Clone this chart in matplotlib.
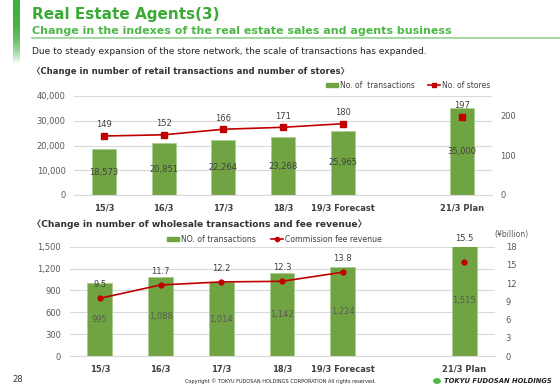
import numpy as np
import matplotlib
matplotlib.use("Agg")
import matplotlib.pyplot as plt
from matplotlib.lines import Line2D
from matplotlib.patches import Patch, Circle

plt.rcParams['font.family'] = ['DejaVu Sans', 'Noto Sans CJK JP']

# datos
categories = ['15/3', '16/3', '17/3', '18/3', '19/3 Forecast', '', '21/3 Plan']
retail_tx = [18573, 20851, 22264, 23268, 25965, np.nan, 35000]
stores = [149, 152, 166, 171, 180, np.nan, 197]
wholesale_tx = [995, 1088, 1014, 1142, 1224, np.nan, 1515]
fee_revenue = [9.5, 11.7, 12.2, 12.3, 13.8, np.nan, 15.5]

GREEN = '#70A443'
RED = '#C00000'
GRID = '#D9D9D9'
TXT = '#404040'
TICK = '#595959'

W, H = 560, 388
fig = plt.figure(figsize=(W / 100, H / 100), dpi=100)


def px_axes(x0, y0, x1, y1):
    # caja en pixeles (y hacia abajo) -> fraccion de figura
    return fig.add_axes([x0 / W, 1 - y1 / H, (x1 - x0) / W, (y1 - y0) / H])


# barra verde degradada a la izquierda
gax = px_axes(13, 0, 19, 64)
grad = np.linspace(0, 1, 100).reshape(-1, 1)
base = np.array([0x3C, 0xB0, 0x3C]) / 255
img = base[None, None, :] * (1 - grad[:, :, None] ** 3) + (grad[:, :, None] ** 3)
gax.imshow(img, aspect='auto', extent=[0, 1, 0, 1])
gax.axis('off')

# cabecera
fig.text(32 / W, 1 - 14 / H, 'Real Estate Agents(3)', fontsize=11, weight='bold',
         color='#3AAA35', va='center', ha='left')
fig.text(32 / W, 1 - 31.5 / H, 'Change in the indexes of the real estate sales and agents business',
         fontsize=8.0, weight='bold', color='#4DB848', va='center', ha='left')
fig.add_artist(Line2D([32 / W, 1], [1 - 37.5 / H, 1 - 37.5 / H], color='#93D193', lw=1.2))
fig.text(32 / W, 1 - 52 / H,
         'Due to steady expansion of the store network, the scale of transactions has expanded.',
         fontsize=6.5, color='#222222', va='center', ha='left')
fig.text(32 / W, 1 - 71 / H, '〈Change in number of retail transactions and number of stores〉',
         fontsize=6.15, weight='bold', color='#333333', va='center', ha='left')
fig.text(32 / W, 1 - 224.5 / H, '〈Change in number of wholesale transactions and fee revenue〉',
         fontsize=6.6, weight='bold', color='#333333', va='center', ha='left')


def style(ax, axr):
    for a in (ax, axr):
        for s in a.spines.values():
            s.set_visible(False)
        a.tick_params(length=0, labelsize=6, labelcolor=TICK)
    ax.spines['bottom'].set_visible(True)
    ax.spines['bottom'].set_color(GRID)
    ax.grid(axis='y', color=GRID, lw=0.8)
    ax.set_axisbelow(True)
    ax.set_xlim(-0.5, len(categories) - 0.5)
    ax.set_xticks(range(len(categories)))
    ax.set_xticklabels(categories, fontsize=6, weight='bold', color=TXT)
    ax.tick_params(axis='x', pad=6, labelcolor=TXT)
    ax.tick_params(axis='y', pad=6)
    axr.tick_params(axis='y', pad=6)
    ax.set_zorder(axr.get_zorder() - 1)
    ax.patch.set_visible(False)


x = np.arange(len(categories))

# ---- grafico superior ----
ax1 = px_axes(74, 96, 492, 195)
ax1r = ax1.twinx()
style(ax1, ax1r)
m = ~np.isnan(retail_tx)
ax1.bar(x[m], np.array(retail_tx)[m], width=0.4, color=GREEN, edgecolor='#A9CC8C', lw=0.5)
ax1.set_ylim(0, 40000)
ax1.set_yticks(range(0, 40001, 10000))
ax1.yaxis.set_major_formatter(matplotlib.ticker.StrMethodFormatter('{x:,.0f}'))
for xi, v in zip(x[m], np.array(retail_tx)[m]):
    ax1.text(xi, v / 2, f'{v:,.0f}', ha='center', va='center', fontsize=6, color=TXT)

ax1r.plot(x, stores, color=RED, lw=1.2, marker='s', ms=4)
ax1r.set_ylim(0, 250)
ax1r.set_yticks([0, 100, 200])
for xi, v in zip(x, stores):
    if not np.isnan(v):
        ax1r.annotate(f'{v:.0f}', (xi, v), xytext=(0, 8), textcoords='offset points',
                      ha='center', va='center', fontsize=6, color=TXT)

h1 = [Patch(color=GREEN), Line2D([], [], color=RED, marker='s', ms=3.5, lw=1.2)]
fig.legend(h1, ['No. of  transactions', 'No. of stores'], loc='center right',
           bbox_to_anchor=(494 / W, 1 - 85 / H), ncol=2, frameon=False, fontsize=5.5,
           handlelength=1.6, handleheight=0.5, handletextpad=0.2, columnspacing=1.8,
           labelcolor=TXT, borderpad=0)

# ---- grafico inferior ----
ax2 = px_axes(69.5, 246.7, 494.5, 356)
ax2r = ax2.twinx()
style(ax2, ax2r)
m2 = ~np.isnan(wholesale_tx)
ax2.bar(x[m2], np.array(wholesale_tx)[m2], width=0.41, color=GREEN, edgecolor='#A9CC8C', lw=0.5)
ax2.set_ylim(0, 1500)
ax2.set_yticks(range(0, 1501, 300))
ax2.yaxis.set_major_formatter(matplotlib.ticker.StrMethodFormatter('{x:,.0f}'))
for xi, v in zip(x[m2], np.array(wholesale_tx)[m2]):
    ax2.text(xi, v / 2, f'{v:,.0f}', ha='center', va='center', fontsize=6, color=TICK)

ax2r.plot(x, fee_revenue, color=RED, lw=1.2, marker='o', ms=3.5)
ax2r.set_ylim(0, 18)
ax2r.set_yticks(range(0, 19, 3))
ax2r.tick_params(axis='y', pad=8)
for i, (xi, v) in enumerate(zip(x, fee_revenue)):
    if not np.isnan(v):
        off = 16.5 if i == len(x) - 1 else 10
        ax2r.annotate(f'{v}', (xi, v), xytext=(0, off), textcoords='offset points',
                      ha='center', va='center', fontsize=6, color=TXT)
fig.text(511 / W, 1 - 235 / H, '(¥billion)', fontsize=5.5, color=TICK, ha='center', va='center')

h2 = [Patch(color=GREEN), Line2D([], [], color=RED, marker='o', ms=3, lw=1.2)]
fig.legend(h2, ['NO. of transactions', 'Commission fee revenue'], loc='center left',
           bbox_to_anchor=(163 / W, 1 - 239 / H), ncol=2, frameon=False, fontsize=5.6,
           handlelength=1.6, handleheight=0.5, handletextpad=0.2, columnspacing=1.9,
           labelcolor=TXT, borderpad=0)

# pie de pagina
fig.text(12 / W, 1 - 380 / H, '28', fontsize=6, color='#333333', ha='left', va='center')
fig.text(280 / W, 1 - 381 / H,
         'Copyright © TOKYU FUDOSAN HOLDINGS CORPORATION All rights reserved.',
         fontsize=3.6, color='#222222', ha='center', va='center')
fig.add_artist(Circle((437 / W, 1 - 381 / H), 3.2 / W, color='#4DB848',
                      transform=fig.transFigure))
fig.text(444 / W, 1 - 381 / H, 'TOKYU FUDOSAN HOLDINGS', fontsize=4.9, weight='bold',
         style='italic', color='#222222', ha='left', va='center')

fig.savefig('out.png', dpi=100)
